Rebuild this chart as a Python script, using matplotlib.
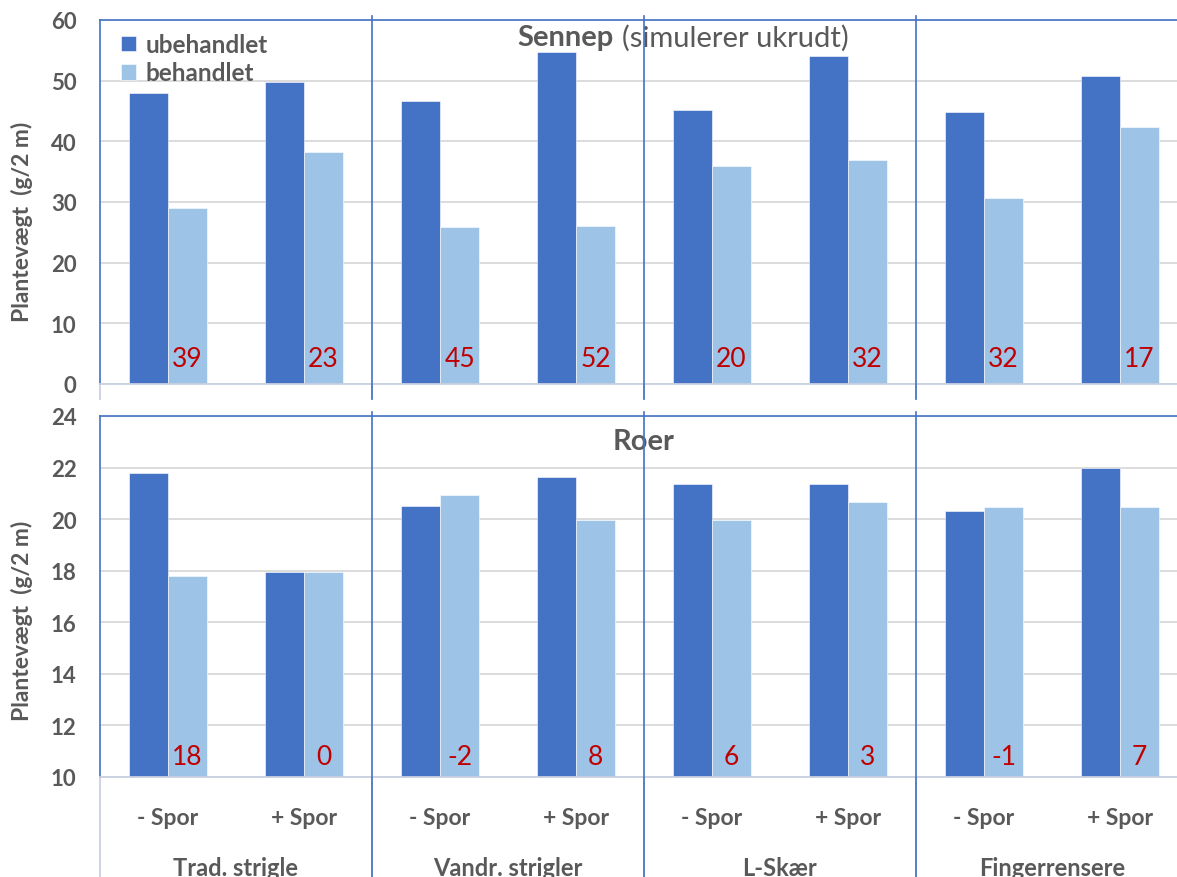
"""
Plantevægt for sennep og roer ved forskellige rensemetoder,
med og uden spor, ubehandlet mod behandlet.
"""

import matplotlib.pyplot as plt
import numpy as np

plt.rcParams["font.family"] = ["Lato", "DejaVu Sans"]

# Data
groups = ["Trad. strigle", "Vandr. strigler", "L-Skær", "Fingerrensere"]
spor = ["- Spor", "+ Spor"]
series = ["ubehandlet", "behandlet"]

sennep_ubeh = [48.0, 49.7, 46.6, 54.7, 45.1, 54.0, 44.8, 50.7]
sennep_beh = [29.0, 38.2, 25.8, 26.1, 36.0, 37.0, 30.6, 42.3]
sennep_effekt = [39, 23, 45, 52, 20, 32, 32, 17]

roer_ubeh = [21.8, 17.95, 20.5, 21.65, 21.35, 21.35, 20.33, 22.0]
roer_beh = [17.8, 17.95, 20.95, 19.95, 19.95, 20.65, 20.48, 20.48]
roer_effekt = [18, 0, -2, 8, 6, 3, -1, 7]

# Styling
W, H = 1177, 878
DARK = "#4472C4"
LIGHT = "#9DC3E6"
FRAME = "#4472C4"
GREY = "#595959"
GRID = "#D9D9D9"
AXIS = "#C9D0E0"
RED = "#C00000"
BAR_W = 0.287


def px_box(left, top, right, bottom):
    return [left / W, 1 - bottom / H, (right - left) / W, (bottom - top) / H]


def draw_panel(ax, ubeh, beh, effekt, ymin, ymax, step, below, label_off):
    x = np.arange(len(ubeh)) + 0.5

    ax.bar(
        x - BAR_W / 2, ubeh, BAR_W,
        color=DARK, edgecolor="white", linewidth=0.4,
        label=series[0], zorder=2,
    )
    ax.bar(
        x + BAR_W / 2, beh, BAR_W,
        color=LIGHT, edgecolor="white", linewidth=0.4,
        label=series[1], zorder=2,
    )

    ax.set_xlim(0, len(ubeh))
    ax.set_ylim(ymin, ymax)
    ax.set_yticks(np.arange(ymin, ymax + 0.1, step))
    ax.set_xticks([])

    ax.grid(axis="y", color=GRID, linewidth=1.3, zorder=0)
    ax.set_axisbelow(True)

    ax.tick_params(axis="y", length=0, pad=17, labelsize=16, labelcolor=GREY)
    for lbl in ax.get_yticklabels():
        lbl.set_fontweight("bold")

    ax.spines["right"].set_visible(False)
    ax.spines["left"].set_color(FRAME)
    ax.spines["left"].set_linewidth(1.2)
    ax.spines["top"].set_color(FRAME)
    ax.spines["top"].set_linewidth(1.2)
    ax.spines["bottom"].set_color(AXIS)
    ax.spines["bottom"].set_linewidth(1.3)

    ax.set_ylabel(
        "Plantevægt  (g/2 m)",
        fontsize=16.5,
        fontweight="bold",
        color=GREY,
    )

    trans = ax.get_xaxis_transform()

    # Effekt i procent, skrevet nederst i de behandlede søjler
    for xi, v in zip(x, effekt):
        ax.annotate(
            f"{v}",
            xy=(xi + BAR_W / 2, 0),
            xycoords=trans,
            xytext=(0, label_off),
            textcoords="offset points",
            ha="center",
            va="center",
            fontsize=19,
            color=RED,
            zorder=3,
        )

    # Skillelinjer mellem rensemetoderne
    bounds = np.arange(0, len(ubeh) + 1, 2)
    for b in bounds:
        ax.plot(
            [b, b],
            [0, -below],
            transform=trans,
            color=AXIS,
            linewidth=1.3,
            clip_on=False,
        )
    for b in bounds[1:-1]:
        ax.plot(
            [b, b],
            [-below, 1.01],
            transform=trans,
            color=FRAME,
            linewidth=1.2,
            clip_on=False,
            zorder=4,
        )


fig = plt.figure(figsize=(W / 100, H / 100), dpi=100)

ax_top = fig.add_axes(px_box(100, 21, 1188, 385))
ax_bot = fig.add_axes(px_box(100, 417, 1188, 778))

draw_panel(ax_top, sennep_ubeh, sennep_beh, sennep_effekt, 0, 60, 10, 15 / 364, 18.7)
draw_panel(ax_bot, roer_ubeh, roer_beh, roer_effekt, 10, 24, 2, 100 / 361, 15.1)

ax_top.yaxis.set_label_coords(-0.062, 0.447)
ax_bot.yaxis.set_label_coords(-0.062, 0.436)

leg = ax_top.legend(
    loc="upper left",
    bbox_to_anchor=(0.019, 0.964),
    frameon=False,
    fontsize=17.5,
    handlelength=0.62,
    handleheight=0.62,
    handletextpad=0.4,
    labelspacing=0.22,
    borderpad=0,
    borderaxespad=0,
)
for txt in leg.get_texts():
    txt.set_color(GREY)
    txt.set_fontweight("bold")

ax_top.text(
    0.4724, 0.953, "Sennep",
    transform=ax_top.transAxes,
    ha="right", va="center",
    fontsize=21, fontweight="bold", color=GREY,
)
ax_top.text(
    0.4798, 0.953, "(simulerer ukrudt)",
    transform=ax_top.transAxes,
    ha="left", va="center",
    fontsize=21, color=GREY,
)
ax_bot.text(
    0.5, 0.93, "Roer",
    transform=ax_bot.transAxes,
    ha="center", va="center",
    fontsize=21, fontweight="bold", color=GREY,
)

# Kategoriakse i to niveauer under roer-panelet
trans = ax_bot.get_xaxis_transform()
for i, g in enumerate(groups):
    for j, s in enumerate(spor):
        ax_bot.text(
            2 * i + j + 0.5, -0.111, s,
            transform=trans,
            ha="center", va="center",
            fontsize=16.5, fontweight="bold", color=GREY,
        )
    ax_bot.text(
        2 * i + 1, -0.251, g,
        transform=trans,
        ha="center", va="center",
        fontsize=17, fontweight="bold", color=GREY,
    )

fig.savefig("out.png", dpi=100)
plt.close(fig)
